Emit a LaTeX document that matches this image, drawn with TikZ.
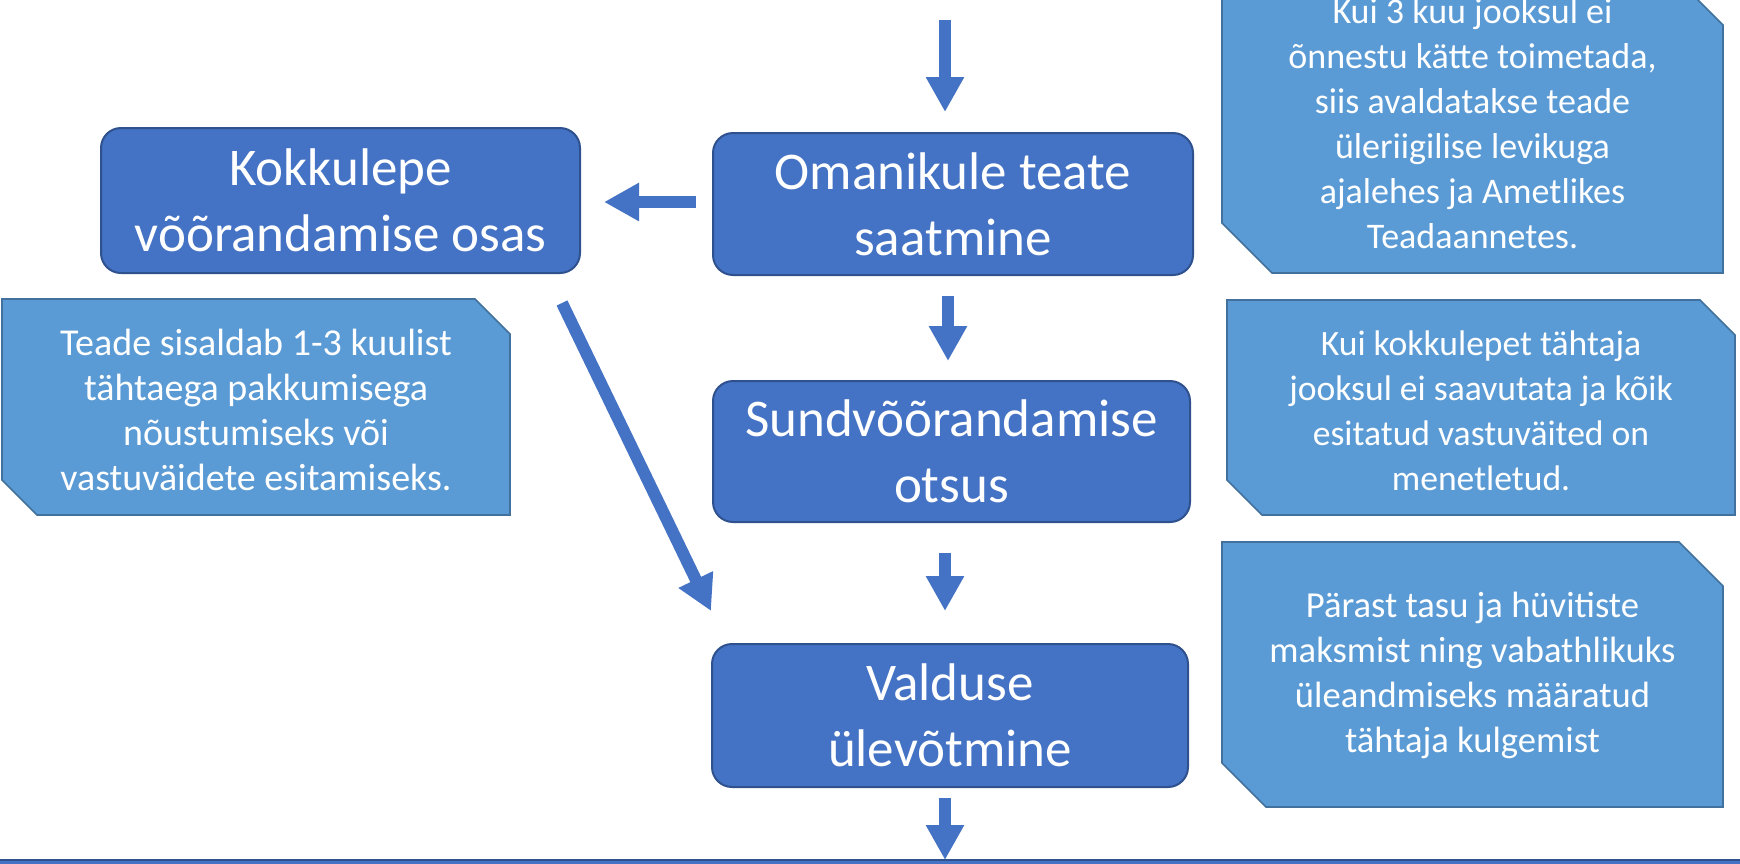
\documentclass[tikz,border=0pt]{standalone}
\usepackage{fontspec}
\setmainfont{Carlito}
\usetikzlibrary{arrows.meta,calc}
\definecolor{boxfill}{HTML}{4472C4}
\definecolor{boxline}{HTML}{2F528F}
\definecolor{callfill}{HTML}{5B9BD5}
\definecolor{callline}{HTML}{41719C}
\begin{document}
\begin{tikzpicture}[x=0.5pt,y=-0.5pt,
  mainbox/.style={draw=boxline, line width=1pt, fill=boxfill, rounded corners=10pt,
    text=white, align=center, font=\fontsize{26.5}{33}\selectfont, inner sep=0pt},
  callout/.style={draw=callline, line width=0.8pt, fill=callfill},
  calltext/.style={text=white, align=center, inner sep=0pt},
  blockarrow/.style={draw=boxfill, line width=6pt, -{Triangle[width=18pt,length=17.5pt]}}
]
\clip (0,0) rectangle (1740,863);
\fill[white] (0,0) rectangle (1740,863);

% callouts
\draw[callout] (1222,-25) -- (1673,-25) -- (1723,25) -- (1723,273) -- (1272,273) -- (1222,223) -- cycle;
\node[calltext, font=\fontsize{18}{22.5}\selectfont] (t1) at (1472.5,124) {Kui 3 kuu jooksul ei\\õnnestu kätte toimetada,\\siis avaldatakse teade\\üleriigilise levikuga\\ajalehes ja Ametlikes\\Teadaannetes.};

\draw[callout] (2,299) -- (475,299) -- (510,334) -- (510,515) -- (37,515) -- (2,480) -- cycle;
\node[calltext, font=\fontsize{19}{22.5}\selectfont] (tl) at (256,410) {Teade sisaldab 1-3 kuulist\\tähtaega pakkumisega\\nõustumiseks või\\vastuväidete esitamiseks.};

\draw[callout] (1227,300) -- (1700,300) -- (1735,335) -- (1735,515) -- (1262,515) -- (1227,480) -- cycle;
\node[calltext, font=\fontsize{17.8}{22.5}\selectfont] (t2) at (1481,410.5) {Kui kokkulepet tähtaja\\jooksul ei saavutata ja kõik\\esitatud vastuväited on\\menetletud.};

\draw[callout] (1222,542) -- (1679,542) -- (1723,586) -- (1723,807) -- (1266,807) -- (1222,763) -- cycle;
\node[calltext, font=\fontsize{18.3}{22.5}\selectfont] (t3) at (1472.5,675.5) {Pärast tasu ja hüvitiste\\maksmist ning vabathlikuks\\üleandmiseks määratud\\tähtaja kulgemist};

% main boxes
\node[mainbox, minimum width=239.5pt, minimum height=72.5pt] (kok) at (340.5,200.5) {Kokkulepe\\võõrandamise osas};
\node[mainbox, minimum width=240pt, minimum height=71pt] (oman) at (953,204) {Omanikule teate\\saatmine};
\node[mainbox, minimum width=238.5pt, minimum height=70.5pt] (sund) at (951.5,451.5) {Sundvõõrandamise\\otsus};
\node[mainbox, minimum width=238pt, minimum height=71.5pt] (vald) at (950,715.5) {Valduse\\ülevõtmine};
\node[mainbox, rounded corners=0pt, minimum width=880pt, minimum height=30pt, anchor=north] (next) at (870,859) {};

% arrows
\coordinate (top) at (945,20);
\draw[blockarrow] (top) -- ($(oman.north)+(-8,-20)$);
\draw[blockarrow] ($(oman.west)+(-16,-2)$) -- ($(kok.east)+(23,1.5)$);
\draw[blockarrow] ($(kok.south east)+(-19,29)$) -- ($(vald.north west)+(0,-32)$);
\draw[blockarrow] ($(oman.south)+(-5,20)$) -- ($(sund.north)+(-3.5,-19)$);
\draw[blockarrow] ($(sund.south)+(-6.5,30)$) -- ($(vald.north)+(-5,-32)$);
\draw[blockarrow] ($(vald.south)+(-5,10)$) -- ($(next.north)+(75,1)$);
\end{tikzpicture}
\end{document}
